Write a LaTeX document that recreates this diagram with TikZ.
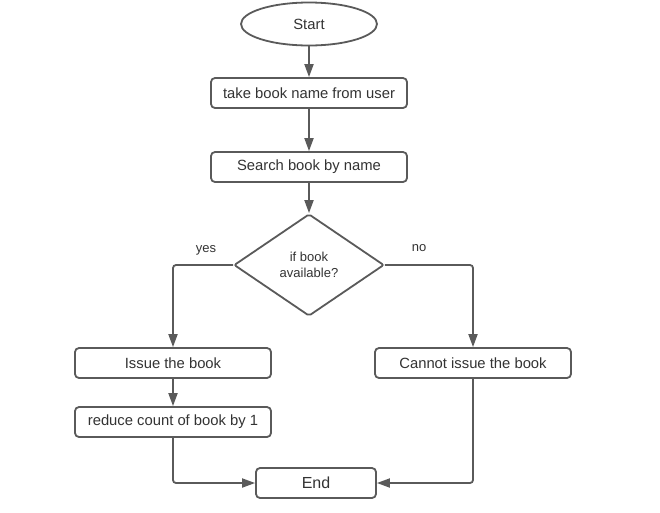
\documentclass[tikz,border=0pt]{standalone}
\usepackage{fontspec}
\setmainfont{Liberation Sans}
\usetikzlibrary{shapes, arrows.meta, positioning}

\definecolor{linegray}{HTML}{5A5A5A}
\definecolor{textgray}{HTML}{333333}

\tikzset{
	box/.style={draw=linegray, line width=1.8pt, rounded corners=4pt, fill=white, text=textgray,
		minimum width=196pt, minimum height=30pt, inner sep=0pt, font=\fontsize{14.8}{17}\selectfont},
	startstop/.style={ellipse, draw=linegray, line width=1.8pt, fill=white, text=textgray,
		minimum width=136pt, minimum height=43pt, inner sep=0pt, font=\fontsize{14.8}{17}\selectfont},
	decision/.style={diamond, draw=linegray, line width=1.8pt, rounded corners=2pt, fill=white, text=textgray,
		minimum width=150pt, minimum height=102pt, inner sep=0pt, align=center, font=\fontsize{13}{16}\selectfont},
	lbl/.style={text=textgray, inner sep=0pt, font=\fontsize{13}{16}\selectfont},
	arrow/.style={draw=linegray, line width=1.8pt, rounded corners=3pt, -{Triangle[length=13pt, width=9pt]}}
}

\begin{document}
\begin{tikzpicture}[x=1pt, y=-1pt]
		\useasboundingbox[fill=white] (0,0) rectangle (660,512); % background
		
		\node[startstop] (start) at (309,24) {Start};
		\node[box] (take) at (309,93) {take book name from user};
		\node[box] (search) at (309,167) {Search book by name};
		\node[decision] (avail) at (309,265) {if book\\available?};
		
		\node[box] (issue) at (173,363) {Issue the book};
		\node[box] (reduce) at (173,422) {reduce count of book by 1};
		\node[box] (cannot) at (473,363) {Cannot issue the book};
		\node[box, minimum width=120pt, font=\fontsize{16}{19}\selectfont] (end) at (316,483) {End};
		
		\node[lbl] (yes) at (206,250) {yes};
		\node[lbl] (no) at (419,248) {no};
		
		\draw[arrow] (start) -- (take);
		\draw[arrow] (take) -- (search);
		\draw[arrow] (search) -- (avail);
		\draw[arrow] (avail.west) -| (issue.north); % yes
		\draw[arrow] (avail.east) -| (cannot.north); % no
		\draw[arrow] (issue) -- (reduce);
		\draw[arrow] (reduce.south) |- (end.west);
		\draw[arrow] (cannot.south) |- (end.east);
	\end{tikzpicture}
\end{document}
